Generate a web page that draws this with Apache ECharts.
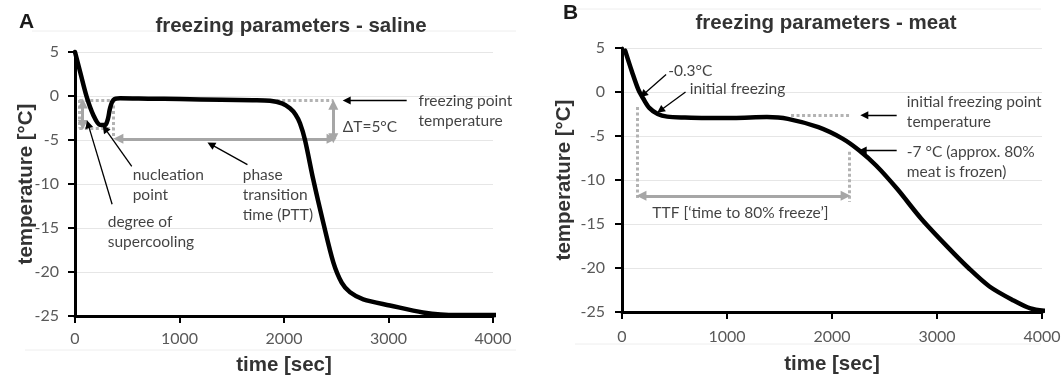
<!DOCTYPE html>
<html><head><meta charset="utf-8">
<script src="https://cdn.jsdelivr.net/npm/echarts@6/dist/echarts.min.js"></script>
<style>html,body{margin:0;padding:0;background:#fff}#c{width:1063px;height:376px}</style>
</head><body><div id="c"></div>
<script>
// ---- data ----
const salineTime = [0, 50, 112, 175, 239, 287, 315, 335, 367, 431, 700, 1000, 1400, 1700, 1866, 1980, 2057, 2110, 2153, 2201, 2280, 2376, 2472, 2552, 2632, 2759, 3014, 3330, 3653, 3971, 4310];
const salineTemp = [5.0, 2.7, -0.1, -2.15, -3.28, -3.3, -2.6, -1.4, -0.45, -0.25, -0.3, -0.35, -0.42, -0.48, -0.55, -0.85, -1.4, -2.1, -3.1, -5.0, -9.5, -14.4, -18.9, -21.2, -22.3, -23.1, -23.8, -24.6, -24.9, -24.9, -24.8];
const meatTime = [30, 95, 158, 205, 260, 340, 430, 600, 800, 1060, 1380, 1580, 1870, 2100, 2260, 2420, 2620, 2850, 3100, 3300, 3500, 3730, 3890, 4020];
const meatTemp = [4.7, 2.3, 0.2, -0.8, -1.8, -2.5, -2.8, -2.9, -2.95, -2.95, -2.85, -3.05, -4.0, -5.3, -6.65, -8.35, -11.0, -14.4, -17.6, -20.0, -22.1, -23.7, -24.6, -24.85];
const timeTicks = {min: 0, max: 4000, step: 1000};
const tempTicks = {min: -25, max: 5, step: 5};

// annotation segments (data coordinates: [time, temperature])
const salineDotted = [[[41,-0.45],[367,-0.45]], [[41,-0.45],[41,-3.66]], [[41,-3.66],[367,-3.66]], [[367,-0.45],[367,-4.9]], [[1930,-0.5],[2472,-0.5]]];
const salineDouble = [[[74,-0.85],[74,-3.3]], [[415,-4.87],[2455,-4.87]], [[2472,-1.0],[2472,-4.8]]];
const salineArrows = [[[3174,-0.5],[2600,-0.5]], [[543,-8.0],[287,-3.7]], [[355,-12.3],[125,-3.2]], [[1650,-7.8],[1301,-5.5]]];
const salineNotes = [
  {at:[3288,-1.72], text:'freezing point\ntemperature'},
  {at:[2562,-3.54], text:'ΔT=5°C'},
  {at:[552,-10.08], text:'nucleation\npoint'},
  {at:[313,-15.4], text:'degree of\nsupercooling'},
  {at:[1605,-11.2], text:'phase\ntransition\ntime (PTT)'}
];
const meatDotted = [[[146,-1.7],[146,-12.2]], [[2162,-6.8],[2162,-12.5]], [[1610,-2.65],[2178,-2.65]]];
const meatDouble = [[[185,-11.8],[2130,-11.8]]];
const meatArrows = [[[2616,-2.65],[2308,-2.65]], [[2616,-6.65],[2292,-6.65]], [[420,2.0],[201,-0.3]], [[605,0.0],[365,-2.1]]];
const meatNotes = [
  {at:[440,2.4], text:'-0.3°C'},
  {at:[645,0.3], text:'initial freezing'},
  {at:[2713,-2.27], text:'initial freezing point\ntemperature'},
  {at:[2713,-8.0], text:'-7 °C (approx. 80%\nmeat is frozen)'},
  {at:[289,-13.8], text:'TTF [\u2018time to 80% freeze\u2019]'}
];

// ---- chart ----
const chart = echarts.init(document.getElementById('c'), null, {renderer:'canvas'});
const boldFont = '"Liberation Sans", Arial, sans-serif';
const noteFont = 'Lato, "Open Sans", sans-serif';

function xAxis(idx, gap, margin){
  return {type:'value', gridIndex:idx, min:timeTicks.min, max:timeTicks.max, interval:timeTicks.step,
    name:'time [sec]', nameLocation:'middle', nameGap:gap, nameMoveOverlap:false,
    nameTextStyle:{fontFamily:boldFont, fontWeight:'bold', fontSize:20.5, color:'#333'},
    axisLine:{show:true, onZero:false, lineStyle:{color:'#000', width:3}},
    axisTick:{show:true, length:7, lineStyle:{color:'#000', width:2}},
    axisLabel:{fontFamily:noteFont, fontSize:16, color:'#595959', margin:margin, formatter:v=>String(v)},
    splitLine:{show:false}};
}
function yAxis(idx, gap, margin){
  return {type:'value', gridIndex:idx, min:tempTicks.min, max:tempTicks.max, interval:tempTicks.step,
    name:'temperature [°C]', nameLocation:'middle', nameGap:gap, nameRotate:90, nameMoveOverlap:false,
    nameTextStyle:{fontFamily:boldFont, fontWeight:'bold', fontSize:20.5, color:'#333'},
    axisLine:{show:true, onZero:false, lineStyle:{color:'#000', width:3}},
    axisTick:{show:true, length:7, lineStyle:{color:'#000', width:2}},
    axisLabel:{fontFamily:noteFont, fontSize:16, color:'#595959', margin:margin, formatter:v=>String(v)},
    splitLine:{show:true, lineStyle:{color:'#e6e6e6', width:1}}};
}
function curve(idx, t, T){
  return {type:'line', xAxisIndex:idx, yAxisIndex:idx, data:t.map((v,i)=>[v,T[i]]),
    smooth:0.3, symbol:'none', clip:false, z:5,
    lineStyle:{color:'#000', width:4.5, cap:'round', join:'round'}};
}
function segs(idx, list, style, sym, size, z){
  return {type:'lines', coordinateSystem:'cartesian2d', xAxisIndex:idx, yAxisIndex:idx, clip:false, z:z,
    symbol:sym, symbolSize:size, lineStyle:Object.assign({opacity:1, curveness:0}, style),
    data:list.map(c=>({coords:c}))};
}
function notes(idx, list){
  return {type:'scatter', xAxisIndex:idx, yAxisIndex:idx, symbolSize:0, clip:false, z:6, silent:true,
    data:list.map(n=>({value:n.at, name:n.text})),
    label:{show:true, position:'right', distance:0, formatter:'{b}', fontFamily:noteFont, fontSize:15.5,
      color:'#111', lineHeight:20, align:'left', verticalAlign:'middle'}};
}
const dotStyle = {color:'#b3b3b3', width:3, type:[3,2.5]};
const dblStyle = {color:'#a6a6a6', width:3, type:'solid'};
const arrStyle = {color:'#000', width:1.3, type:'solid'};

chart.setOption({
  animation:false,
  grid:[{left:75, right:570, top:52, bottom:60, outerBoundsMode:'none', containLabel:false},
        {left:622, right:21, top:48, bottom:64, outerBoundsMode:'none', containLabel:false}],
  xAxis:[xAxis(0,39,15), xAxis(1,42,17)],
  yAxis:[yAxis(0,38,16), yAxis(1,47,17)],
  series:[
    segs(0, salineDotted, dotStyle, ['none','none'], 0, 2),
    segs(0, salineDouble, dblStyle, ['triangle','triangle'], 10, 3),
    segs(0, salineArrows, arrStyle, ['none','triangle'], 8, 7),
    curve(0, salineTime, salineTemp),
    notes(0, salineNotes),
    segs(1, meatDotted, dotStyle, ['none','none'], 0, 2),
    segs(1, meatDouble, dblStyle, ['triangle','triangle'], 10, 3),
    segs(1, meatArrows, arrStyle, ['none','triangle'], 8, 7),
    curve(1, meatTime, meatTemp),
    notes(1, meatNotes)
  ],
  graphic:[
    {type:'line', shape:{x1:32, y1:31, x2:516, y2:31}, style:{stroke:'#eeeeee', lineWidth:1}, silent:true},
    {type:'line', shape:{x1:25, y1:350, x2:516, y2:350}, style:{stroke:'#eeeeee', lineWidth:1}, silent:true},
    {type:'line', shape:{x1:576, y1:9, x2:1041, y2:9}, style:{stroke:'#eeeeee', lineWidth:1}, silent:true},
    {type:'line', shape:{x1:575, y1:344, x2:1041, y2:344}, style:{stroke:'#eeeeee', lineWidth:1}, silent:true},
    {type:'text', left:19, top:12, style:{text:'A', font:'bold 21px "Liberation Sans", Arial', fill:'#1a1a1a'}},
    {type:'text', left:563, top:3, style:{text:'B', font:'bold 21px "Liberation Sans", Arial', fill:'#1a1a1a'}},
    {type:'text', x:291, y:26, style:{text:'freezing parameters - saline', font:'bold 20.5px "Liberation Sans", Arial', fill:'#333', align:'center', verticalAlign:'middle'}},
    {type:'text', x:826, y:23, style:{text:'freezing parameters - meat', font:'bold 20.5px "Liberation Sans", Arial', fill:'#333', align:'center', verticalAlign:'middle'}}
  ]
});
</script></body></html>
